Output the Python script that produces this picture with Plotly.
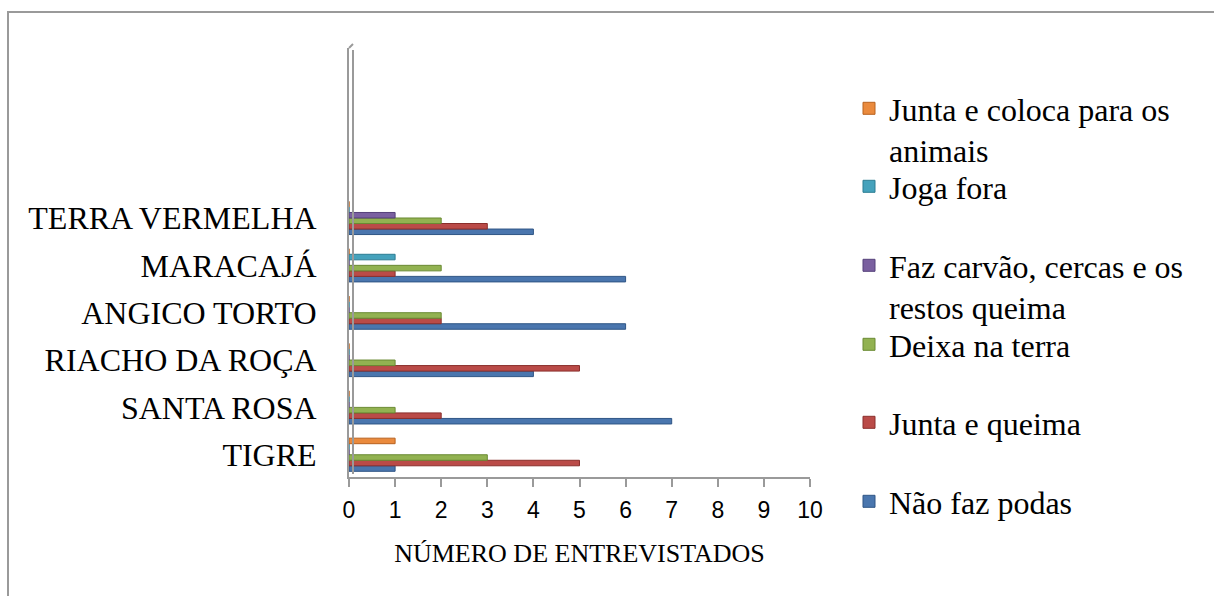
import plotly.graph_objects as go

W, H = 1214, 596

categories = ["TIGRE", "SANTA ROSA", "RIACHO DA ROÇA", "ANGICO TORTO", "MARACAJÁ", "TERRA VERMELHA"]
series_names = [
    "Não faz podas",
    "Junta e queima",
    "Deixa na terra",
    "Faz carvão, cercas e os<br>restos queima",
    "Joga fora",
    "Junta e coloca para os<br>animais",
]
nao_faz_podas = [1, 7, 4, 6, 6, 4]
junta_e_queima = [5, 2, 5, 2, 1, 3]
deixa_na_terra = [3, 1, 1, 2, 2, 2]
faz_carvao = [0, 0, 0, 0, 0, 1]
joga_fora = [0, 0, 0, 0, 1, 0]
junta_animais = [1, 0, 0, 0, 0, 0]
x_ticks = list(range(0, 11))

values = [nao_faz_podas, junta_e_queima, deixa_na_terra, faz_carvao, joga_fora, junta_animais]
colors = ["#4A76AE", "#BA4B48", "#92B251", "#7A60A0", "#45A2BC", "#EA8A3D"]
lines = ["#2F5585", "#8A2F2C", "#6A8A33", "#55407A", "#2C7D93", "#B8621F"]
legend_ids = ["legend6", "legend5", "legend4", "legend3", "legend2", "legend"]
legend_y_px = [503, 424, 346, 267, 188, 110]

fig = go.Figure()
for name, vals, c, lc, lid in zip(series_names, values, colors, lines, legend_ids):
    fig.add_trace(go.Bar(
        y=categories, x=vals, orientation="h", name=name,
        marker=dict(color=c, line=dict(color=lc, width=1)),
        legend=lid,
    ))

def px2x(px):
    return px / W

def px2y(py):
    return 1 - py / H

leg_font = dict(family="Liberation Serif", size=32, color="black")
layout_legends = {}
for lid, ypx in zip(legend_ids, legend_y_px):
    layout_legends[lid] = dict(
        x=px2x(849), y=px2y(ypx - 29), xanchor="left", yanchor="top",
        font=leg_font, valign="top", bgcolor="rgba(0,0,0,0)",
        borderwidth=0, tracegroupgap=0,
    )

fig.update_layout(
    width=W, height=H,
    margin=dict(l=0, r=0, t=0, b=0, autoexpand=False),
    paper_bgcolor="white", plot_bgcolor="white",
    barmode="group", bargap=0.3, bargroupgap=0,
    showlegend=True,
    xaxis=dict(
        domain=[px2x(349), px2x(810)], range=[0, 10],
        tickvals=x_ticks, ticktext=[str(v) for v in x_ticks],
        showgrid=False, zeroline=False,
        showline=True, linecolor="#9a9a9a", linewidth=2,
        ticks="outside", ticklen=8, tickcolor="#9a9a9a", tickwidth=2,
        ticklabelstandoff=3,
        tickfont=dict(family="Liberation Sans", size=23, color="black"),
        title=dict(text="NÚMERO DE ENTREVISTADOS",
                   font=dict(family="Liberation Serif", size=26, color="black"),
                   standoff=22),
    ),
    yaxis=dict(
        domain=[px2y(477), px2y(48)],
        type="category", categoryorder="array", categoryarray=categories,
        range=[-0.47, 8.59],
        showgrid=False, zeroline=False,
        showline=True, linecolor="#9a9a9a", linewidth=2,
        ticks="", ticklabelstandoff=24,
        tickfont=dict(family="Liberation Serif", size=32, color="black"),
    ),
    shapes=[
        dict(type="rect", xref="paper", yref="paper",
             x0=px2x(8), y0=px2y(12), x1=1.02, y1=-0.02,
             line=dict(color="#9a9a9a", width=2), fillcolor="rgba(0,0,0,0)", layer="below"),
        dict(type="line", xref="paper", yref="paper",
             x0=px2x(353), x1=px2x(353), y0=px2y(474), y1=px2y(50),
             line=dict(color="#9a9a9a", width=2)),
        dict(type="line", xref="paper", yref="paper",
             x0=px2x(349), x1=px2x(353), y0=px2y(48), y1=px2y(44),
             line=dict(color="#9a9a9a", width=2)),
    ],
    **layout_legends,
)

fig.write_html("out.html")
